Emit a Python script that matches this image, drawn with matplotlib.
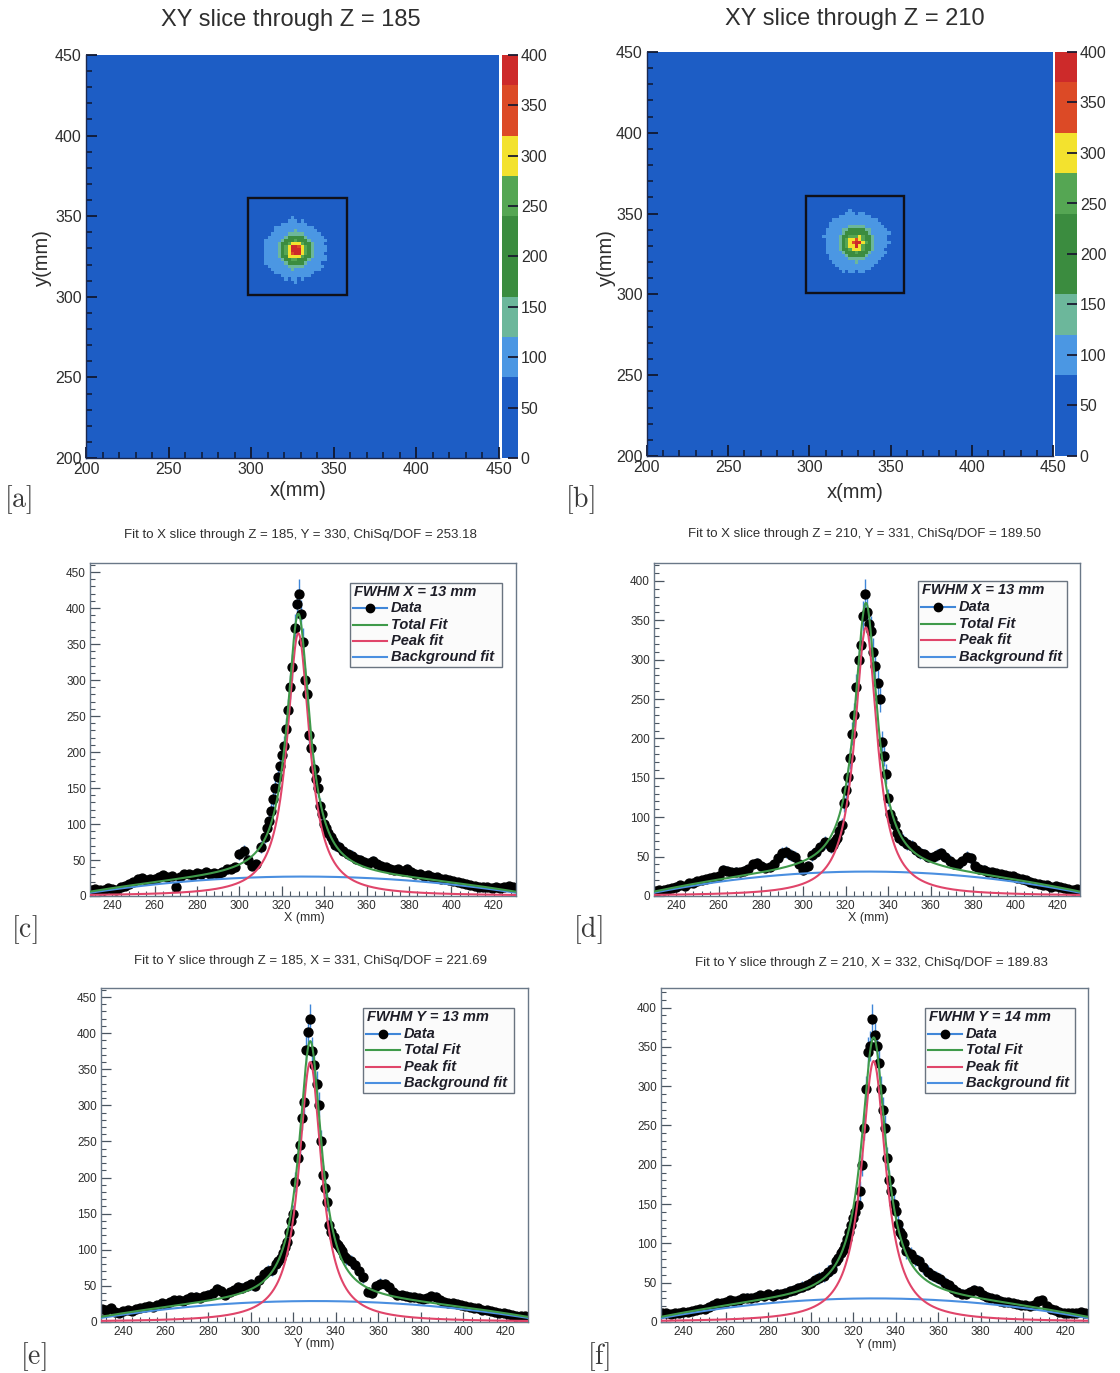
import numpy as np
import matplotlib
matplotlib.use("Agg")
import matplotlib.pyplot as plt
from matplotlib.colors import ListedColormap, BoundaryNorm
from matplotlib.patches import Rectangle
from matplotlib.lines import Line2D
from matplotlib.ticker import MultipleLocator

plt.rcParams['font.family'] = ['Liberation Sans', 'DejaVu Sans']
plt.rcParams['mathtext.fontset'] = 'cm'

# ---------------------------------------------------------------- data
# bin centres of the 1D slices (mm): 2 mm in the tails, 1 mm across the peak
bin_centres = np.concatenate([np.arange(230, 313, 2),
                              np.arange(313, 346),
                              np.arange(347, 430, 2)]).astype(float)

# X slice, Z = 185, Y = 330
counts_x_z185 = [
    9, 10, 8, 9, 11, 10, 9, 12, 14, 17,
    20, 23, 25, 22, 24, 23, 27, 29, 26, 28,
    12, 27, 30, 31, 29, 32, 31, 33, 30, 32,
    31, 34, 37, 38, 40, 58, 63, 50, 42, 44,
    68, 82,
    95, 104, 118, 135, 150, 165, 180, 196, 208, 232,
    258, 290, 318, 372, 406, 420, 392, 353, 300, 280,
    224, 206, 176, 162, 150, 125, 114, 100, 95, 88,
    82, 76, 71,
    68, 63, 58, 56, 52, 50, 47, 46, 48, 45,
    42, 40, 38, 36, 37, 35, 38, 34, 31, 30,
    28, 29, 27, 26, 24, 23, 22, 21, 19, 18,
    17, 15, 14, 13, 12, 12, 11, 12, 11, 13,
    14, 12]

# X slice, Z = 210, Y = 331
counts_x_z210 = [
    6, 7, 8, 9, 10, 12, 14, 13, 16, 17,
    19, 20, 22, 23, 24, 26, 33, 32, 30, 31,
    30, 32, 34, 40, 42, 38, 36, 37, 40, 48,
    55, 56, 52, 50, 40, 33, 38, 52, 56, 62,
    68, 66,
    62, 65, 70, 74, 82, 90, 118, 135, 151, 175,
    206, 230, 265, 300, 318, 355, 383, 360, 345, 337,
    310, 292, 270, 250, 195, 178, 155, 125, 104, 98,
    90, 80, 74,
    70, 66, 63, 58, 55, 53, 50, 49, 52, 54,
    50, 45, 41, 40, 44, 50, 48, 38, 34, 33,
    31, 30, 29, 28, 27, 26, 25, 23, 22, 20,
    18, 17, 15, 14, 14, 12, 13, 11, 10, 9,
    8, 9]

# Y slice, Z = 185, X = 331
counts_y_z185 = [
    18, 16, 20, 14, 12, 15, 16, 15, 18, 20,
    21, 22, 21, 24, 26, 25, 28, 31, 30, 29,
    32, 34, 35, 33, 36, 38, 40, 46, 43, 38,
    42, 45, 48, 47, 50, 52, 50, 58, 66, 70,
    72, 80,
    84, 88, 96, 104, 111, 125, 140, 150, 194, 227,
    245, 282, 305, 376, 402, 420, 375, 356, 330, 301,
    250, 203, 185, 166, 134, 125, 118, 110, 106, 102,
    98, 92, 88,
    84, 79, 70, 62, 42, 40, 50, 53, 52, 48,
    42, 38, 37, 36, 35, 34, 33, 32, 33, 36,
    35, 30, 28, 27, 26, 25, 24, 22, 21, 20,
    19, 17, 16, 15, 14, 13, 12, 11, 10, 9,
    9, 8]

# Y slice, Z = 210, X = 332
counts_y_z210 = [
    12, 11, 10, 12, 11, 13, 13, 14, 15, 17,
    17, 19, 22, 24, 24, 26, 28, 27, 28, 30,
    31, 30, 32, 34, 33, 35, 33, 36, 35, 37,
    40, 41, 43, 45, 47, 50, 54, 56, 58, 64,
    68, 77,
    82, 88, 92, 98, 106, 115, 124, 132, 140, 149,
    166, 200, 247, 296, 344, 351, 385, 365, 351, 330,
    296, 270, 247, 208, 180, 166, 150, 141, 125, 115,
    111, 100, 90,
    86, 80, 77, 70, 64, 60, 57, 55, 50, 47,
    42, 38, 36, 35, 38, 41, 39, 34, 32, 30,
    29, 27, 26, 25, 24, 23, 22, 21, 20, 22,
    27, 28, 20, 17, 15, 13, 12, 11, 11, 12,
    13, 12]

# fit results: Lorentzian peak (amplitude, centre, FWHM) + parabolic background
peak_amplitude = [365, 341, 360, 332]
peak_centre = [327.8, 329.5, 328.0, 329.6]
peak_fwhm = [13, 13, 13, 14]
bg_height = [27, 31, 29, 30]
bg_centre = [330, 330, 330, 330]
bg_halfwidth = [110, 108, 112, 110]
chisq_dof = [253.18, 189.50, 221.69, 189.83]

slice_axis = ['X', 'X', 'Y', 'Y']
slice_z = [185, 210, 185, 210]
slice_other = [330, 331, 331, 332]

# XY maps around the spot, 2 mm cells, colour-level index per cell (top row first);
# everything outside these patches sits in the lowest level
map_z = [185, 210]
level_values = [40, 100, 140, 200, 260, 300, 345, 385]
spot_z185 = [
    "000000000100000000000",
    "000000001110100000000",
    "000000111111110000000",
    "000011111111111100000",
    "000011111121111110000",
    "000111112222211111000",
    "001111123333321111100",
    "011111233343332111110",
    "011112334555433211100",
    "011112345776543211110",
    "011112345777543211110",
    "011112345677543211100",
    "011112335555433211110",
    "011111233443332111110",
    "011111123333321111000",
    "001111112222211111100",
    "000111111211111111000",
    "000011111111111100000",
    "000000111111111000000",
    "000000010110100000000",
    "000000000010000000000",
]
spot_z210 = [
    "000000001000000000000",
    "000000011101100000000",
    "000001111111111000000",
    "000111111111111110000",
    "001111111111111111000",
    "001111112222211111100",
    "011111223333322111110",
    "011111233333332111111",
    "111112334445433211110",
    "011112345565433211110",
    "011112345677543211111",
    "011112345575433211110",
    "011112334555433211100",
    "011111233343332111110",
    "001111123333321111100",
    "001111112222211111000",
    "000111111121111110000",
    "000011111111111100000",
    "000001111111111000000",
    "000000101101100000000",
    "000000000000000000000",
]
spot_corner = [(306, 308), (308, 311)]   # lower-left corner of each patch (mm)
spot_cell = 2.0

# region-of-interest box on each XY map: (x0, y0, size)
roi_box = [(298, 301, 60), (298, 301, 60)]

# colour levels of the XY maps
level_bounds = [0, 80, 120, 160, 240, 280, 320, 370, 400]
level_colours = ['#1d5dc5', '#4b97e3', '#6cb79b', '#3b8c3f',
                 '#55a653', '#f3e22e', '#dc4a26', '#cd2a2a']

# ---------------------------------------------------------------- figure
W, H = 1120, 1373
fig = plt.figure(figsize=(W / 100, H / 100), dpi=100)
TXT = '#2e2e2e'


def fx(x):
    return x / W


def fy(y):
    return 1 - y / H


def ax_at(x0, y0, x1, y1):
    return fig.add_axes([fx(x0), fy(y1), (x1 - x0) / W, (y1 - y0) / H])


cmap = ListedColormap(level_colours)
cmap.set_over(level_colours[-1])
cmap.set_under(level_colours[0])
norm = BoundaryNorm(level_bounds, cmap.N)

# ---------------------------------------------------------------- XY maps
map_frames = [((86, 55, 499, 458), (502, 55, 518, 458)),
              ((647, 52, 1053, 456), (1055, 52, 1077, 456))]
map_spots = [spot_z185, spot_z210]
map_title_pos = [(291, 20), (855, 19)]
map_xlabel_pos = [(298, 490), (855, 492)]
map_ylabel_pos = [(42, 258), (606, 258)]

for i in range(2):
    (ax_box, cb_box) = map_frames[i]
    ax = ax_at(*ax_box)
    rows = map_spots[i]
    zmap = np.array([[level_values[int(ch)] for ch in row] for row in rows[::-1]],
                    float)
    cx, cy = spot_corner[i]
    xe = cx + spot_cell * np.arange(zmap.shape[1] + 1)
    ye = cy + spot_cell * np.arange(zmap.shape[0] + 1)
    ax.set_facecolor(level_colours[0])
    mesh = ax.pcolormesh(xe, ye, zmap, cmap=cmap, norm=norm,
                         shading='flat', rasterized=True)
    ax.set_xlim(200, 450)
    ax.set_ylim(200, 450)
    bx, by, bs = roi_box[i]
    ax.add_patch(Rectangle((bx, by), bs, bs, fill=False,
                           ec='#101018', lw=1.7, zorder=3))
    ax.xaxis.set_major_locator(MultipleLocator(50))
    ax.yaxis.set_major_locator(MultipleLocator(50))
    ax.xaxis.set_minor_locator(MultipleLocator(10))
    ax.yaxis.set_minor_locator(MultipleLocator(10))
    ax.tick_params(which='both', direction='in', color='#101830',
                   labelsize=11.5, labelcolor=TXT, top=False, right=False)
    ax.tick_params(which='major', length=8, width=1.3, pad=3)
    ax.tick_params(which='minor', length=4, width=1.1)
    for s in ['top', 'right']:
        ax.spines[s].set_visible(False)
    for s in ['left', 'bottom']:
        ax.spines[s].set_color('#1a2850')
        ax.spines[s].set_linewidth(1.0)

    cax = ax_at(*cb_box)
    cb = fig.colorbar(mesh, cax=cax, spacing='proportional',
                      ticks=np.arange(0, 401, 50), extend='neither')
    cb.outline.set_visible(False)
    cb.ax.minorticks_off()
    cb.ax.tick_params(direction='in', length=7, width=1.3, color='#1a1a30',
                      labelsize=11.5, labelcolor=TXT, pad=2)

    tx, ty = map_title_pos[i]
    fig.text(fx(tx), fy(ty), f'XY slice through Z = {map_z[i]}',
             ha='center', va='center', fontsize=17, color=TXT)
    lx, ly = map_xlabel_pos[i]
    fig.text(fx(lx), fy(ly), 'x(mm)', ha='center', va='center',
             fontsize=14.5, color=TXT)
    lx, ly = map_ylabel_pos[i]
    fig.text(fx(lx), fy(ly), 'y(mm)', ha='center', va='center',
             fontsize=14.5, color=TXT, rotation=90)

# ---------------------------------------------------------------- 1D fits
fit_frames = [(90, 563, 516, 896), (654, 563, 1080, 896),
              (101, 988, 528, 1322), (661, 988, 1088, 1322)]
fit_counts = [counts_x_z185, counts_x_z210, counts_y_z185, counts_y_z210]
fit_title_pos = [(300, 535), (864, 534), (310, 961), (871, 963)]
fit_xlabel_pos = [(304, 918), (868, 918), (314, 1344), (876, 1345)]
legend_frames = [(350, 583, 502, 667), (918, 581, 1067, 667),
                 (363, 1008, 514, 1093), (925, 1008, 1075, 1093)]

C_DATA_ERR = '#3f86d8'
C_TOTAL = '#3f9a4a'
C_PEAK = '#e0456a'
C_BG = '#4a8fe0'
x_range = (229.5, 430.5)


def lorentz(x, a, x0, fwhm):
    return a / (1 + ((x - x0) / (fwhm / 2)) ** 2)


def parabola(x, h, xc, hw):
    return h * (1 - ((x - xc) / hw) ** 2)


for i in range(4):
    ax = ax_at(*fit_frames[i])
    y = np.array(fit_counts[i], float)
    ax.errorbar(bin_centres, y, yerr=np.sqrt(y), fmt='o', ms=6.4,
                mfc='black', mec='black', ecolor=C_DATA_ERR,
                elinewidth=1.0, capsize=0, zorder=2)
    xs = np.linspace(*x_range, 800)
    pk = lorentz(xs, peak_amplitude[i], peak_centre[i], peak_fwhm[i])
    bg = parabola(xs, bg_height[i], bg_centre[i], bg_halfwidth[i])
    ax.plot(xs, bg, color=C_BG, lw=1.5, zorder=3)
    ax.plot(xs, pk, color=C_PEAK, lw=1.5, zorder=4)
    ax.plot(xs, pk + bg, color=C_TOTAL, lw=1.5, zorder=5)

    ax.set_xlim(*x_range)
    ax.set_ylim(0, 1.05 * (y.max() + np.sqrt(y.max())))
    ax.xaxis.set_major_locator(MultipleLocator(20))
    ax.xaxis.set_minor_locator(MultipleLocator(4))
    ax.yaxis.set_major_locator(MultipleLocator(50))
    ax.yaxis.set_minor_locator(MultipleLocator(10))
    ax.tick_params(which='both', direction='in', color='#4a5560',
                   labelsize=8.5, labelcolor=TXT, top=False, right=False)
    ax.tick_params(which='major', length=7, width=0.9, pad=3)
    ax.tick_params(which='minor', length=3.5, width=0.8)
    for s in ax.spines.values():
        s.set_color('#6a7888')
        s.set_linewidth(1.0)

    tx, ty = fit_title_pos[i]
    fig.text(fx(tx), fy(ty),
             f'Fit to {slice_axis[i]} slice through Z = {slice_z[i]}, '
             f'{"Y" if slice_axis[i] == "X" else "X"} = {slice_other[i]}, '
             f'ChiSq/DOF = {chisq_dof[i]:.2f}',
             ha='center', va='center', fontsize=9.5, color=TXT)
    lx, ly = fit_xlabel_pos[i]
    fig.text(fx(lx), fy(ly), f'{slice_axis[i]} (mm)', ha='center',
             va='center', fontsize=9, color=TXT)

    # legend box
    x0, y0, x1, y1 = legend_frames[i]
    fig.add_artist(Rectangle((fx(x0), fy(y1)), (x1 - x0) / W, (y1 - y0) / H,
                             transform=fig.transFigure, facecolor='#fbfbfb',
                             edgecolor='#6a7480', lw=1.0, zorder=6))
    bh = y1 - y0
    lkw = dict(fontsize=10.5, fontweight='bold', style='italic', color='#1e1e28',
               va='center', ha='left', zorder=7)
    fig.text(fx(x0 + 4), fy(y0 + 0.11 * bh),
             f'FWHM {slice_axis[i]} = {peak_fwhm[i]} mm', **lkw)
    entries = [('Data', C_DATA_ERR, True), ('Total Fit', C_TOTAL, False),
               ('Peak fit', C_PEAK, False), ('Background fit', C_BG, False)]
    for k, (name, col, marker) in enumerate(entries):
        ry = y0 + (0.30 + 0.195 * k) * bh
        fig.add_artist(Line2D([fx(x0 + 3), fx(x0 + 37)], [fy(ry), fy(ry)],
                              transform=fig.transFigure, color=col,
                              lw=1.5, zorder=7))
        if marker:
            fig.add_artist(Line2D([fx(x0 + 20)], [fy(ry)],
                                  transform=fig.transFigure, marker='o',
                                  ms=6.0, color='black', lw=0, zorder=8))
        fig.text(fx(x0 + 41), fy(ry), name, **lkw)

# ---------------------------------------------------------------- panel tags
tags = ['a', 'b', 'c', 'd', 'e', 'f']
tag_pos = [(18, 500), (580, 500), (24, 930), (588, 930), (33, 1357), (598, 1357)]
for t, (px, py) in zip(tags, tag_pos):
    fig.text(fx(px), fy(py), r'$[\mathrm{' + t + r'}]$', ha='center',
             va='center', fontsize=20, color='#3a3a3a')

fig.savefig('out.png', dpi=100)
